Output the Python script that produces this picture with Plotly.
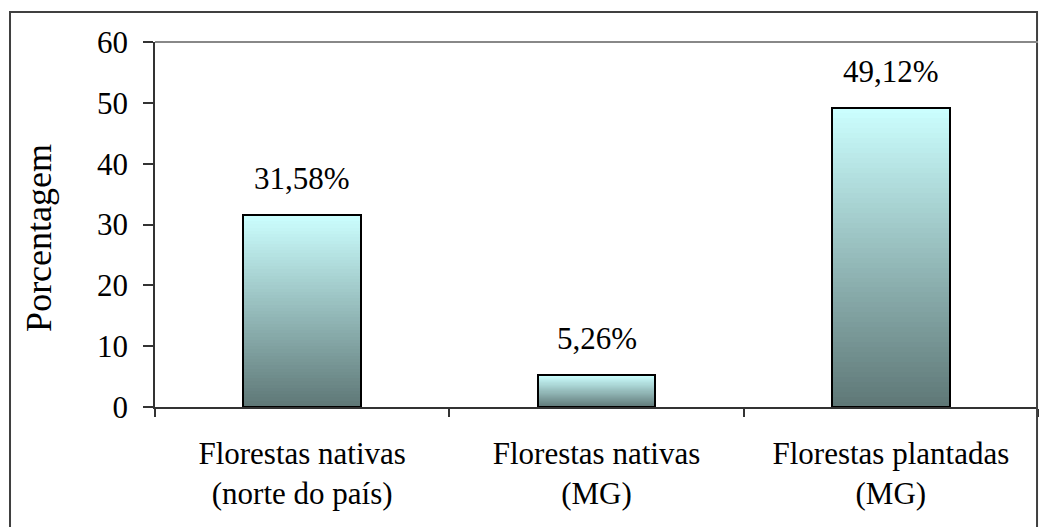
import plotly.graph_objects as go

categories = ["Florestas nativas<br>(norte do país)", "Florestas nativas<br>(MG)", "Florestas plantadas<br>(MG)"]
values = [31.58, 5.26, 49.12]
y_ticks = [0, 10, 20, 30, 40, 50, 60]
y_title = "Porcentagem"

FONT = "Liberation Serif"
TOP = (204, 255, 255)
BOTTOM = (94, 119, 118)
N = 60

def blend(t):
    r = [round(BOTTOM[i] + (TOP[i] - BOTTOM[i]) * t) for i in range(3)]
    return f"rgb({r[0]},{r[1]},{r[2]})"

fig = go.Figure()
for k in range(N):
    fig.add_trace(go.Bar(
        x=categories,
        y=[v / N * 1.02 for v in values],
        base=[v * k / N for v in values],
        width=0.4,
        marker=dict(color=blend((k + 0.5) / N), line=dict(width=0)),
        showlegend=False, hoverinfo="skip",
    ))
fig.add_trace(go.Bar(
    x=categories, y=values, width=0.4,
    marker=dict(color="rgba(0,0,0,0)", line=dict(color="black", width=2)),
    showlegend=False, hoverinfo="skip",
))

for c, v in zip(categories, values):
    fig.add_annotation(x=c, y=v, text=f"{v:.2f}".replace(".", ",") + "%",
                       showarrow=False, yanchor="bottom", yshift=17,
                       font=dict(family=FONT, size=31, color="black"))

fig.add_annotation(xref="paper", yref="paper", x=-0.1315, y=0.463, text=y_title,
                   textangle=-90, showarrow=False, xanchor="center", yanchor="middle",
                   font=dict(family=FONT, size=36, color="black"))

# outer chart border
fig.add_shape(type="rect", xref="paper", yref="paper",
              x0=-0.1642, x1=0.9989, y0=-0.45, y1=1.0822,
              line=dict(color="#404040", width=2), fillcolor="rgba(0,0,0,0)", layer="above")
# plot area top edge
fig.add_shape(type="line", xref="paper", yref="paper", x0=0, x1=1, y0=1, y1=1,
              line=dict(color="#888888", width=2))

fig.update_layout(
    width=1050, height=527,
    margin=dict(l=155, r=12, t=42, b=120),
    paper_bgcolor="white", plot_bgcolor="white",
    barmode="overlay", bargap=0,
    font=dict(family=FONT, size=31, color="black"),
    xaxis=dict(type="category", tickson="boundaries", ticks="outside", ticklen=8,
               tickcolor="#333333", tickwidth=1.5, showline=True, linecolor="#333333",
               linewidth=1.5, showgrid=False, ticklabelstandoff=18,
               tickfont=dict(family=FONT, size=31, color="black")),
    yaxis=dict(range=[0, 60], tickvals=y_ticks, ticks="outside", ticklen=10,
               tickcolor="#333333", tickwidth=1.5, showline=True, linecolor="#333333",
               linewidth=1.5, showgrid=False, zeroline=False, ticklabelstandoff=9,
               tickfont=dict(family=FONT, size=31, color="black")),
)

fig.write_html("out.html", config={"displayModeBar": False},
               post_script="document.body.style.margin='0px';")
